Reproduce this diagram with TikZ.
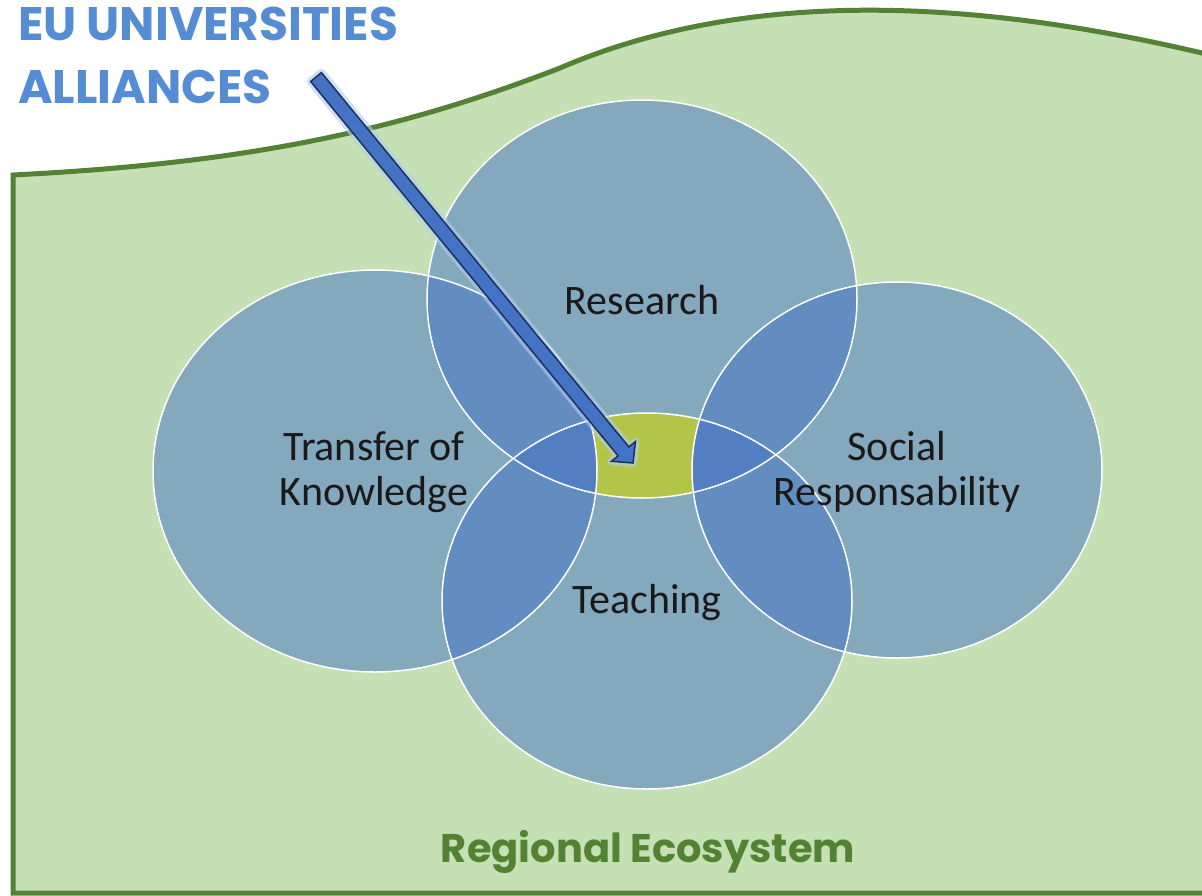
\documentclass[tikz,border=0pt]{standalone}
\usepackage{fontspec}
\setmainfont{Carlito}
\newfontfamily\gothic{Poppins}
\usetikzlibrary{calc}
\definecolor{meadow}{RGB}{197,224,180}
\definecolor{hedge}{RGB}{84,130,53}
\definecolor{petalblue}{RGB}{68,114,196}
\definecolor{lens}{RGB}{178,197,72}
\definecolor{navy}{RGB}{28,48,96}
\definecolor{sky}{RGB}{84,141,212}
\def\research{(642,299) ellipse [x radius=215, y radius=199]}
\def\transfer{(375,471) ellipse [x radius=222, y radius=201]}
\def\social{(897,470) ellipse [x radius=205, y radius=188]}
\def\teaching{(647,601) ellipse [x radius=205, y radius=188]}
\def\blockarrow{($(tail)!7pt!90:(tip)$) -- ($(neck)!7pt!90:(tip)$) -- ($(neck)!15.5pt!90:(tip)$) -- (tip)
    -- ($(neck)!15.5pt!-90:(tip)$) -- ($(neck)!7pt!-90:(tip)$) -- ($(tail)!7pt!-90:(tip)$) -- cycle}
\tikzset{petal/.style={fill=petalblue,fill opacity=.5},
  rim/.style={draw=white,line width=1.5pt},
  label/.style={font=\fontsize{42}{45}\selectfont,align=center,text=black!90},
  banner/.style={font=\gothic\bfseries\fontsize{47}{50}\selectfont,text=sky,anchor=base west,inner sep=0pt}}

\begin{document}
\begin{tikzpicture}[x=1pt,y=-1pt]
  \useasboundingbox[fill=white] (0,0) rectangle (1202,895);
  \filldraw[fill=meadow,draw=hedge,line width=5pt] (13,893) -- (13,175) .. controls (250,163) and (400,130) .. (560,68)
    .. controls (700,8) and (900,-18) .. (1202,53) -- (1215,60) -- (1215,893) -- cycle;
  \foreach \p in {\research,\transfer,\social,\teaching} {
    \fill[petal] \p;
  }
  \begin{scope}
    \clip \research;
    \clip \teaching;
    \fill[lens,even odd rule] (400,380) rectangle (900,520) \transfer \social;
  \end{scope}
  \foreach \p in {\research,\transfer,\social,\teaching} {
    \draw[rim] \p;
  }
  \node[label] at (642,300) (res) {Research};
  \node[label] at (374,472) (tok) {Transfer of\\Knowledge};
  \node[label] at (897,472) (soc) {Social\\Responsability};
  \node[label] at (647,603) (tea) {Teaching};
  \node[banner] at (18,40) (eu) {EU UNIVERSITIES};
  \node[banner] at (18,103) (all) {ALLIANCES};
  \node[font=\gothic\bfseries\fontsize{40}{44}\selectfont,text=hedge,anchor=base] at (648,862) (eco) {Regional Ecosystem};
  \coordinate (tail) at (316,77);
  \coordinate (tip) at (633,463);
  \coordinate (neck) at ($(tip)!15pt!(tail)$);
  \path[draw=sky!45,line width=8pt,line join=round,opacity=.6,fill=sky!45] \blockarrow;
  \filldraw[fill=petalblue,draw=navy,line width=1.5pt,line join=miter] \blockarrow;
\end{tikzpicture}
\end{document}
